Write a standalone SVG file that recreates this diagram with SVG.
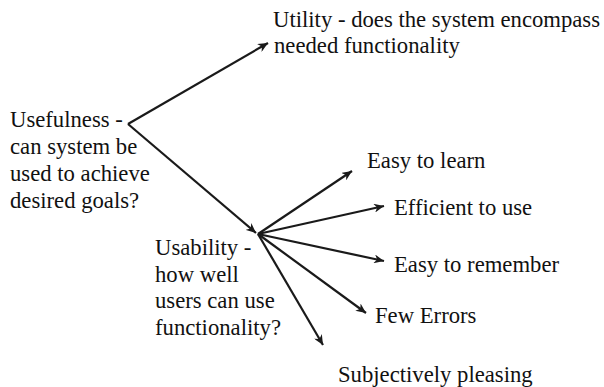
<svg xmlns="http://www.w3.org/2000/svg" width="604" height="387" viewBox="0 0 604 387">
  <style>
    text { font-family: 'Liberation Serif', 'Times New Roman', serif; font-size: 22.7px; fill: #111; }
    .conn { stroke: #1a1a1a; stroke-width: 2.2; fill: none; marker-end: url(#arrow); }
  </style>
  <defs>
    <marker id="arrow" markerUnits="userSpaceOnUse" markerWidth="11" markerHeight="9" refX="10" refY="4.5" orient="auto">
      <path d="M0,0 L10,4.5 L0,9 L3,4.5 z" fill="#1a1a1a"/>
    </marker>
  </defs>
  <rect width="604" height="387" fill="#ffffff"/>

  <g id="connectors">
    <line class="conn" x1="128" y1="124" x2="268" y2="43"/>
    <line class="conn" x1="128" y1="124" x2="256" y2="233"/>
    <line class="conn" x1="258" y1="234" x2="352" y2="171"/>
    <line class="conn" x1="258" y1="234" x2="384" y2="206"/>
    <line class="conn" x1="258" y1="234" x2="384" y2="261"/>
    <line class="conn" x1="258" y1="234" x2="366" y2="313"/>
    <line class="conn" x1="258" y1="234" x2="323" y2="345"/>
  </g>

  <g id="usefulness">
    <text x="10" y="127">Usefulness -</text>
    <text x="10" y="154">can system be</text>
    <text x="10" y="181">used to achieve</text>
    <text x="10" y="208">desired goals?</text>
  </g>

  <g id="utility">
    <text x="273" y="27">Utility - does the system encompass</text>
    <text x="274" y="53">needed functionality</text>
  </g>

  <g id="usability">
    <text x="155" y="255">Usability -</text>
    <text x="155" y="281.5">how well</text>
    <text x="155" y="308">users can use</text>
    <text x="155" y="335">functionality?</text>
  </g>

  <g id="easy-to-learn">
    <text x="367" y="168">Easy to learn</text>
  </g>
  <g id="efficient-to-use">
    <text x="394" y="215">Efficient to use</text>
  </g>
  <g id="easy-to-remember">
    <text x="394" y="272">Easy to remember</text>
  </g>
  <g id="few-errors">
    <text x="375" y="323">Few Errors</text>
  </g>
  <g id="subjectively-pleasing">
    <text x="338" y="382">Subjectively pleasing</text>
  </g>
</svg>
